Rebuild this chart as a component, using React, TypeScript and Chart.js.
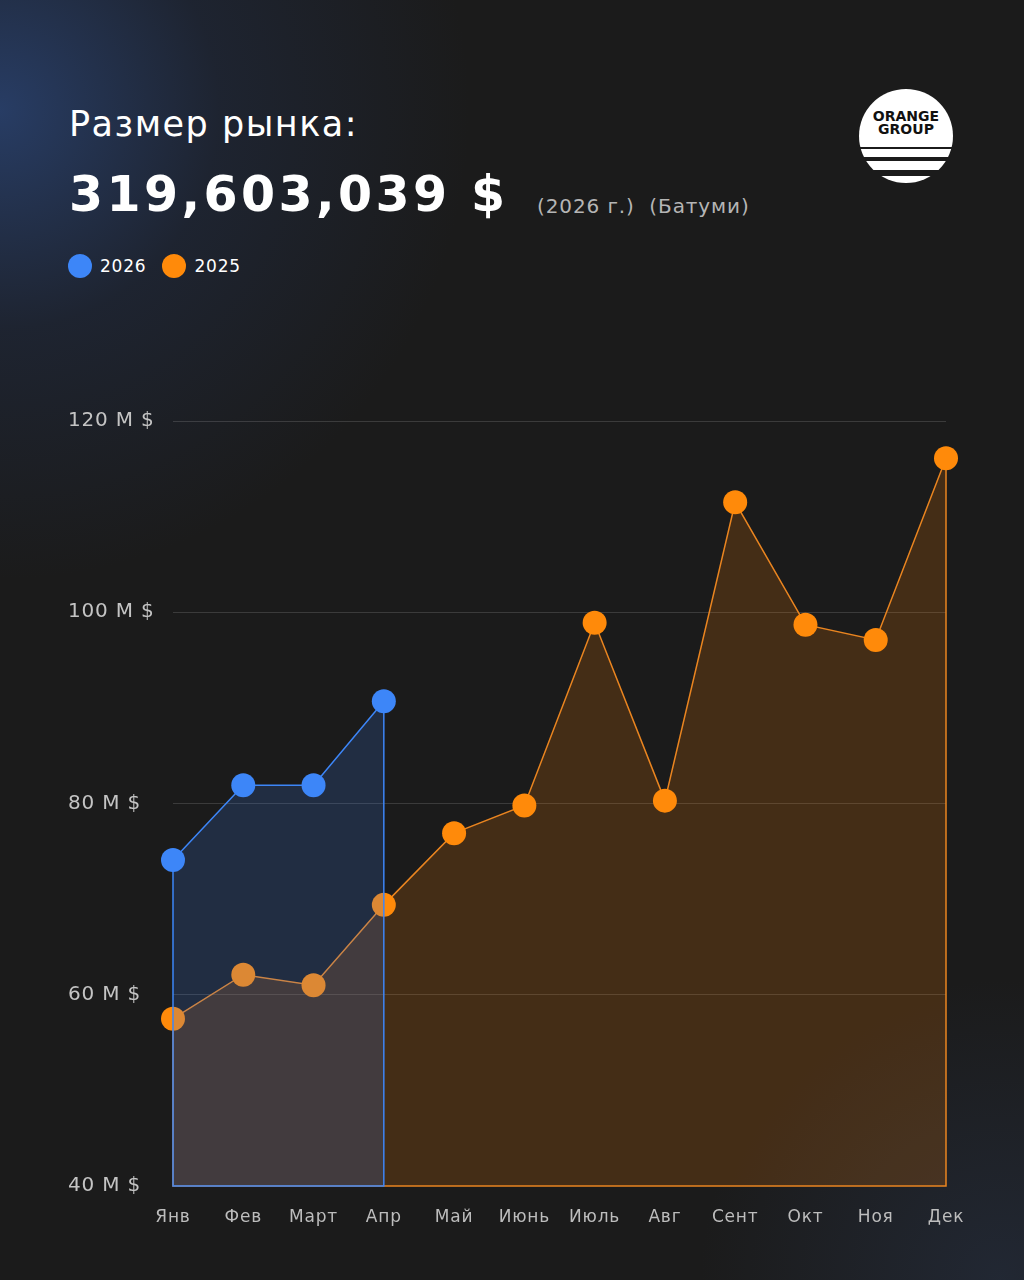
import React, { useEffect, useRef } from "react";
import { Chart, registerables } from "chart.js";

Chart.register(...registerables);

const months = ["Янв", "Фев", "Март", "Апр", "Май", "Июнь", "Июль", "Авг", "Сент", "Окт", "Ноя", "Дек"];
const values2026 = [74.1, 81.9, 81.9, 90.7, null, null, null, null, null, null, null, null];
const values2025 = [57.5, 62.1, 61.0, 69.4, 76.9, 79.8, 98.9, 80.3, 111.5, 98.7, 97.1, 116.1];
const yTicks = [40, 60, 80, 100, 120];

const BLUE = "#3d86f8";
const ORANGE = "#ff8a0a";
const FONT = "'DejaVu Sans', sans-serif";

const outlinePlugin = {
  id: "areaOutline",
  beforeDraw(chart: any) {
    try {
      chart.ctx.letterSpacing = "0.8px";
    } catch (e) {}
  },
  beforeDatasetDraw(chart: any, args: any) {
    const ds = chart.data.datasets[args.index];
    const meta = chart.getDatasetMeta(args.index);
    const pts = meta.data.filter((_p: any, i: number) => ds.data[i] != null);
    if (!pts.length) return;
    const y = chart.scales.y;
    const yb = y.getPixelForValue(y.min);
    const f = pts[0];
    const l = pts[pts.length - 1];
    const ctx = chart.ctx;
    ctx.save();
    ctx.strokeStyle = ds.borderColor;
    ctx.lineWidth = ds.borderWidth;
    ctx.beginPath();
    ctx.moveTo(f.x, f.y);
    ctx.lineTo(f.x, yb);
    ctx.lineTo(l.x, yb);
    ctx.lineTo(l.x, l.y);
    ctx.stroke();
    ctx.restore();
  },
};

function Logo() {
  return (
    <svg width="100" height="100" viewBox="0 0 100 100" style={{ position: "absolute", left: 856, top: 87 }}>
      <defs>
        <clipPath id="lc">
          <circle cx="50" cy="49" r="47" />
        </clipPath>
      </defs>
      <g clipPath="url(#lc)">
        <rect x="0" y="0" width="100" height="60" fill="#fff" />
        <rect x="0" y="62" width="100" height="8" fill="#fff" />
        <rect x="0" y="74" width="100" height="9" fill="#fff" />
        <rect x="0" y="89" width="100" height="11" fill="#fff" />
      </g>
      <text x="50" y="34" textAnchor="middle" fontFamily="'DejaVu Sans', sans-serif" fontWeight="bold" fontSize="14" fill="#111">ORANGE</text>
      <text x="50" y="47" textAnchor="middle" fontFamily="'DejaVu Sans', sans-serif" fontWeight="bold" fontSize="14" fill="#111">GROUP</text>
    </svg>
  );
}

export default function App() {
  const ref = useRef<HTMLCanvasElement>(null);
  useEffect(() => {
    if (!ref.current) return;
    const chart = new Chart(ref.current, {
      type: "line",
      data: {
        labels: months,
        datasets: [
          {
            label: "2026",
            data: values2026,
            borderColor: BLUE,
            borderWidth: 1.5,
            backgroundColor: "rgba(59,130,246,0.18)",
            fill: "start",
            pointRadius: 12,
            pointHoverRadius: 12,
            pointBackgroundColor: BLUE,
            pointBorderWidth: 0,
            tension: 0,
            spanGaps: false,
            clip: false,
          } as any,
          {
            label: "2025",
            data: values2025,
            borderColor: "#ea8520",
            borderWidth: 1.5,
            backgroundColor: "rgba(255,130,0,0.18)",
            fill: "start",
            pointRadius: 12,
            pointHoverRadius: 12,
            pointBackgroundColor: ORANGE,
            pointBorderWidth: 0,
            tension: 0,
            clip: false,
          } as any,
        ],
      },
      options: {
        animation: false,
        responsive: true,
        maintainAspectRatio: false,
        layout: { padding: { left: 68, right: 78, top: 41, bottom: 0 } },
        plugins: { legend: { display: false }, tooltip: { enabled: false } },
        scales: {
          x: {
            type: "category",
            offset: false,
            grid: { display: false, drawTicks: false },
            border: { display: false },
            ticks: { color: "#bdbdbd", font: { family: FONT, size: 17 }, padding: 21, maxRotation: 0, autoSkip: false },
            afterFit: (s: any) => {
              s.height = 74;
            },
          },
          y: {
            min: 40,
            max: 120,
            afterBuildTicks: (s: any) => {
              s.ticks = yTicks.map((v) => ({ value: v }));
            },
            grid: { color: (c: any) => (c.tick && c.tick.value === 40 ? "rgba(0,0,0,0)" : "rgba(255,255,255,0.14)"), lineWidth: 1, drawTicks: false },
            border: { display: false },
            ticks: {
              color: "#c4c4c4",
              font: { family: FONT, size: 20 },
              crossAlign: "far",
              callback: (v: any) => `${v} M $`,
            },
            afterFit: (s: any) => {
              s.width = 105;
            },
          },
        },
      },
      plugins: [outlinePlugin],
    });
    return () => chart.destroy();
  }, []);

  return (
    <div
      style={{
        position: "absolute",
        left: 0,
        top: 0,
        width: 1024,
        height: 1280,
        overflow: "hidden",
        fontFamily: FONT,
        background:
          "radial-gradient(circle at 0px 110px, rgba(44,72,125,0.75) 0px, rgba(35,52,88,0.35) 220px, rgba(27,27,27,0) 470px), radial-gradient(circle at 1000px 1280px, rgba(40,52,75,0.5) 0px, rgba(27,27,27,0) 300px), #1b1b1b",
      }}
    >
      <div style={{ position: "absolute", left: 69, top: 104, color: "#fff", fontSize: 35, letterSpacing: 1.5, whiteSpace: "nowrap" }}>
        Размер рынка:
      </div>
      <div style={{ position: "absolute", left: 69, top: 166, color: "#fff", fontSize: 49, fontWeight: "bold", letterSpacing: 3.4, whiteSpace: "nowrap" }}>
        319,603,039 $
      </div>
      <div style={{ position: "absolute", left: 537, top: 194, color: "#b5b5b5", fontSize: 20, letterSpacing: 0.9, whiteSpace: "nowrap" }}>
        (2026 г.)&nbsp;&nbsp;(Батуми)
      </div>
      <div style={{ position: "absolute", left: 68, top: 254, display: "flex", alignItems: "center", color: "#fff", fontSize: 17, letterSpacing: 0.8 }}>
        <span style={{ width: 24, height: 24, borderRadius: 12, background: BLUE, display: "inline-block" }} />
        <span style={{ marginLeft: 8 }}>2026</span>
        <span style={{ width: 24, height: 24, borderRadius: 12, background: ORANGE, display: "inline-block", marginLeft: 16 }} />
        <span style={{ marginLeft: 8 }}>2025</span>
      </div>
      <Logo />
      <div style={{ position: "absolute", left: 0, top: 380, width: 1024, height: 880 }}>
        <canvas ref={ref} />
      </div>
    </div>
  );
}
